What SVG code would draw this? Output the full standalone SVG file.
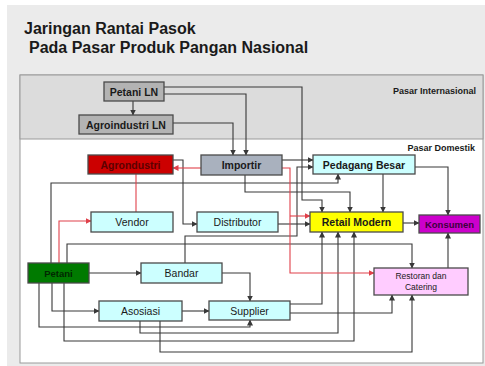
<svg xmlns="http://www.w3.org/2000/svg" width="485" height="366" viewBox="0 0 485 366">
  <style>
    text { font-family: "Liberation Sans", Arial, sans-serif; fill: #1a1a1a; }
    .title { font-size: 16px; font-weight: bold; }
    .zone { font-size: 9px; font-weight: bold; text-anchor: end; }
    .lb { font-size: 10.5px; font-weight: bold; text-anchor: middle; }
    .lr { font-size: 10.5px; text-anchor: middle; }
    .ls { font-size: 8.5px; text-anchor: middle; }
    .box { stroke: #4a4a4a; stroke-width: 1.3; }
    .grey { fill: #b3b3b3; }
    .cyan { fill: #ccffff; }
    .wire { fill: none; stroke: #383838; stroke-width: 1.1; }
    .red { fill: none; stroke: #e0404a; stroke-width: 1.1; }
  </style>
  <defs>
    <marker id="ah" markerUnits="userSpaceOnUse" markerWidth="6" markerHeight="6" refX="5.5" refY="3" orient="auto">
      <path d="M0,0 L6,3 L0,6 z" fill="#383838"/>
    </marker>
    <marker id="ahr" markerUnits="userSpaceOnUse" markerWidth="6" markerHeight="6" refX="5.5" refY="3" orient="auto">
      <path d="M0,0 L6,3 L0,6 z" fill="#e0404a"/>
    </marker>
  </defs>

  <!-- slide background and panel -->
  <rect x="0" y="0" width="485" height="366" fill="#ffffff"/>
  <rect x="7" y="5" width="478" height="361" fill="#ebebeb"/>
  <rect x="20" y="75" width="463" height="288" fill="#ffffff" stroke="#9a9a9a" stroke-width="1"/>
  <rect x="20" y="75" width="463" height="64" fill="#dcdcdc" stroke="#9a9a9a" stroke-width="1"/>

  <text class="title" x="24" y="34">Jaringan Rantai Pasok</text>
  <text class="title" x="29" y="53">Pada Pasar Produk Pangan Nasional</text>
  <text class="zone" x="476" y="94">Pasar Internasional</text>
  <text class="zone" x="475" y="151">Pasar Domestik</text>

  <!-- connectors -->
  <g id="connectors">
    <path class="wire" d="M133,101 V115" marker-end="url(#ah)"/>
    <path class="wire" d="M164,87 H302 V200 H322 V212" marker-end="url(#ah)"/>
    <path class="wire" d="M164,94 H246 V155" marker-end="url(#ah)"/>
    <path class="wire" d="M173,123 H233 V155" marker-end="url(#ah)"/>
    <path class="wire" d="M282,160 H313" marker-end="url(#ah)"/>
    <path class="wire" d="M245,175 V192 H350 V212" marker-end="url(#ah)"/>
    <path class="wire" d="M173,160 H183 V224 H197" marker-end="url(#ah)"/>
    <path class="wire" d="M278,224 H310" marker-end="url(#ah)"/>
    <path class="wire" d="M383,174 V212" marker-end="url(#ah)"/>
    <path class="wire" d="M415,167 H448 V215" marker-end="url(#ah)"/>
    <path class="wire" d="M403,223 H419" marker-end="url(#ah)"/>
    <path class="wire" d="M448,268 V233" marker-end="url(#ah)"/>
    <path class="wire" d="M51,263 V183 H338 V174" marker-end="url(#ah)"/>
    <path class="wire" d="M185,263 V236 H297 V167 H313" marker-end="url(#ah)"/>
    <path class="wire" d="M67,263 V244 H412 V268" marker-end="url(#ah)"/>
    <path class="wire" d="M89,273 H141" marker-end="url(#ah)"/>
    <path class="wire" d="M222,273 H250 V301" marker-end="url(#ah)"/>
    <path class="wire" d="M182,311 H209" marker-end="url(#ah)"/>
    <path class="wire" d="M52,283 V311 H99" marker-end="url(#ah)"/>
    <path class="wire" d="M39,283 V327 H250 V320" marker-end="url(#ah)"/>
    <path class="wire" d="M290,304 H322 V232" marker-end="url(#ah)"/>
    <path class="wire" d="M290,313 H392 V295" marker-end="url(#ah)"/>
    <path class="wire" d="M140,321 V333 H338 V232" marker-end="url(#ah)"/>
    <path class="wire" d="M64,283 V341 H354 V232" marker-end="url(#ah)"/>
    <path class="wire" d="M160,321 V352 H412 V295" marker-end="url(#ah)"/>
    <path class="red" d="M201,168 H173" marker-end="url(#ahr)"/>
    <path class="red" d="M136,174 V212"/>
    <path class="red" d="M59,263 V221 H91" marker-end="url(#ahr)"/>
    <path class="red" d="M282,168 H290 V273 H374" marker-end="url(#ahr)"/>
    <path class="red" d="M290,216 H310" marker-end="url(#ahr)"/>
  </g>

  <!-- nodes -->
  <g id="petani-ln">
    <rect class="box grey" x="104" y="82" width="60" height="19"/>
    <text class="lb" x="134" y="95.5">Petani LN</text>
  </g>
  <g id="agroindustri-ln">
    <rect class="box grey" x="79" y="115" width="94" height="19"/>
    <text class="lb" x="126" y="128.5">Agroindustri LN</text>
  </g>
  <g id="agroindustri">
    <rect class="box" x="88" y="155" width="85" height="19" fill="#cc0000"/>
    <text class="lb" x="130.5" y="168.5" style="fill:#5c0000">Agrondustri</text>
  </g>
  <g id="importir">
    <rect class="box" x="201" y="155" width="81" height="20" fill="#a9b1be"/>
    <text class="lb" x="241.5" y="169">Importir</text>
  </g>
  <g id="pedagang-besar">
    <rect class="box cyan" x="313" y="155" width="102" height="19"/>
    <text class="lb" x="364" y="168.5">Pedagang Besar</text>
  </g>
  <g id="vendor">
    <rect class="box cyan" x="91" y="212" width="82" height="20"/>
    <text class="lr" x="132" y="226">Vendor</text>
  </g>
  <g id="distributor">
    <rect class="box cyan" x="197" y="212" width="81" height="20"/>
    <text class="lr" x="237.5" y="226">Distributor</text>
  </g>
  <g id="retail-modern">
    <rect class="box" x="310" y="212" width="93" height="20" fill="#ffff00"/>
    <text class="lb" x="356.5" y="226">Retail Modern</text>
  </g>
  <g id="konsumen">
    <rect class="box" x="419" y="215" width="61" height="18" fill="#cc00cc"/>
    <text class="lb" x="449.5" y="228" style="fill:#3d003d;font-size:9.5px">Konsumen</text>
  </g>
  <g id="petani">
    <rect class="box" x="28" y="263" width="61" height="20" fill="#007a00"/>
    <text class="lb" x="58.5" y="277" style="fill:#002800;font-size:9.5px">Petani</text>
  </g>
  <g id="bandar">
    <rect class="box cyan" x="141" y="263" width="81" height="20"/>
    <text class="lr" x="181.5" y="277">Bandar</text>
  </g>
  <g id="restoran">
    <rect class="box" x="374" y="268" width="94" height="27" fill="#ffccff"/>
    <text class="ls" x="421" y="279">Restoran dan</text>
    <text class="ls" x="421" y="290">Catering</text>
  </g>
  <g id="asosiasi">
    <rect class="box cyan" x="99" y="301" width="83" height="20"/>
    <text class="lr" x="140.5" y="315">Asosiasi</text>
  </g>
  <g id="supplier">
    <rect class="box cyan" x="209" y="301" width="81" height="19"/>
    <text class="lr" x="249.5" y="314.5">Supplier</text>
  </g>
</svg>
